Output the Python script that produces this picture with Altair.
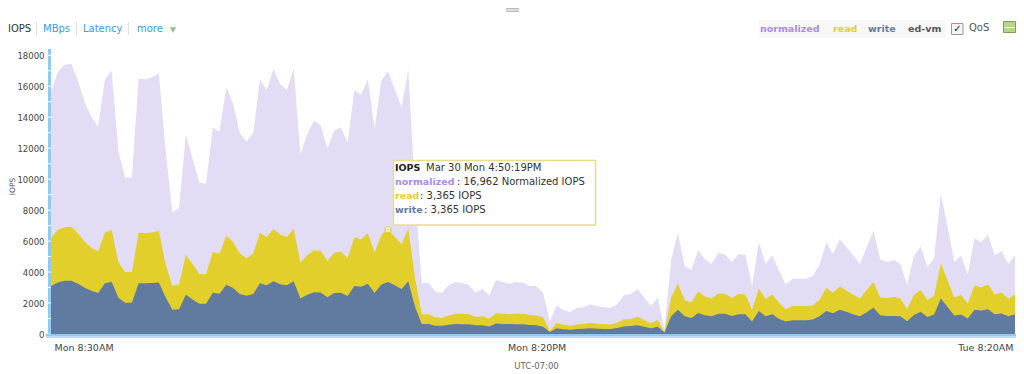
import altair as alt
import pandas as pd

FONT = "DejaVu Sans"
STEP_MINUTES = 10

normalized = [15570,16900,17380,17440,16350,14950,14000,13390,16450,16990,11790,10100,10100,16480,16440,16570,16800,11900,7860,8130,
 12870,11300,9760,9700,13330,13050,15950,14880,12980,12420,12980,16440,15730,17110,16140,15750,17130,11600,12900,13770,
 13470,11970,13130,13350,12330,15730,15440,16450,13240,16350,16962,15780,14620,17050,9100,3270,3310,2730,2670,3170,
 3360,3290,3170,2670,2910,2470,3480,3360,3230,3360,3310,3080,3100,2670,800,1830,1550,1420,1700,1720,
 1920,1790,1720,1700,1920,2520,2580,2910,2360,1810,2340,300,4780,6500,4390,4130,5430,4820,4520,5250,
 5140,4650,5170,5100,3100,5920,4520,5080,4090,3180,3570,3570,3570,3750,4460,5900,5170,6120,5600,5080,
 4520,5600,6670,4820,4650,4780,4520,3170,5060,5640,4330,4890,9040,6930,4650,5060,3880,6200,5920,6400,
 5080,5360,4520,5100]

read_stack_top = [6200,6720,6890,6930,6500,5960,5570,5320,6540,6720,4630,4000,4000,6540,6520,6560,6650,4520,3120,3190,
 5100,4520,3880,3860,5300,5190,6330,5960,5190,4910,5190,6540,6270,6780,6420,6270,6800,4610,5080,5410,
 5360,4720,5230,5330,4900,6250,6100,6500,5280,6400,6730,6280,5800,6800,3600,1270,1270,1080,1030,1200,
 1300,1300,1280,1100,1150,1000,1340,1300,1280,1300,1300,1220,1200,1080,200,710,600,540,620,660,
 710,660,640,620,730,960,960,1110,900,680,920,120,2350,3250,2190,2030,2750,2420,2290,2620,
 2600,2320,2580,2550,1560,2940,2270,2550,2010,1600,1800,1800,1800,1840,2210,2970,2660,3070,2810,2530,
 2290,2840,3360,2380,2320,2400,2290,1620,2510,2840,2190,2470,4570,3440,2360,2510,1970,3140,3010,3200,
 2550,2680,2270,2550]

write = [3100,3330,3440,3440,3250,2990,2790,2640,3270,3380,2340,2010,2010,3270,3270,3290,3330,2380,1560,1600,
 2530,2230,1950,1950,2660,2600,3180,2970,2580,2470,2580,3270,3140,3400,3220,3140,3400,2290,2530,2700,
 2680,2380,2640,2660,2450,3100,3050,3250,2640,3200,3365,3140,2900,3400,1760,645,645,535,535,600,
 645,625,625,560,560,490,670,645,645,625,625,580,560,470,130,365,300,280,325,345,
 365,345,325,325,385,490,510,560,470,365,470,90,1140,1570,1140,1040,1360,1210,1150,1300,
 1300,1170,1280,1280,800,1490,1150,1280,970,800,890,890,890,930,1150,1490,1340,1560,1430,1280,
 1150,1410,1690,1210,1170,1170,1150,820,1230,1430,1100,1260,2290,1750,1190,1260,1000,1560,1520,1600,
 1280,1320,1150,1280]

y_major = [0,2000,4000,6000,8000,10000,12000,14000,16000,18000]
y_minor = [1000*k for k in range(0,19)]
x_tick_minutes = [0,710,1430]
x_tick_labels = ["Mon 8:30AM","Mon 8:20PM","Tue 8:20AM"]

minutes = [i*STEP_MINUTES for i in range(len(write))]
df = pd.DataFrame({"minutes":minutes,"normalized":normalized,"read":read_stack_top,"write":write})

W, H = 964, 285
OX, OY = 51, 49
x_scale = alt.Scale(domain=[0,1430], nice=False, zero=False)
y_scale = alt.Scale(domain=[0,18400], nice=False)

label_expr = "datum.value==0?'%s':datum.value==710?'%s':'%s'" % tuple(x_tick_labels)
x_axis = alt.Axis(values=x_tick_minutes, labelExpr=label_expr, grid=False, domain=False, ticks=False,
                  labelFont=FONT, labelFontSize=9.5, labelColor="#444", labelPadding=8,
                  labelAlign=alt.ExprRef("datum.value==0?'left':datum.value==710?'center':'right'"),
                  labelOffset=alt.ExprRef("datum.value==0?3:datum.value==710?7:-2"),
                  labelOverlap=False, labelBound=False, labelFlush=False,
                  title="UTC-07:00", titleFont=FONT, titleFontSize=8.5, titleFontWeight="normal",
                  titleColor="#666", titleX=485, titleY=27)
y_axis = alt.Axis(values=y_major, format="d", labelOverlap=False, labelBound=False, labelFlush=False,
                  grid=False, domain=False, ticks=False,
                  labelFont=FONT, labelFontSize=8.5, labelColor="#444", labelPadding=7,
                  title="IOPS", titleFont=FONT, titleFontSize=7.5, titleFontWeight="normal", titleColor="#555",
                  titleBaseline="top", titleX=-43, titleY=137)

def area(field, color):
    return alt.Chart(df).mark_area(color=color, opacity=1, interpolate="linear").encode(
        x=alt.X("minutes:Q", scale=x_scale, axis=x_axis),
        y=alt.Y(field + ":Q", scale=y_scale, axis=y_axis),
    )

def rect(x0, y0, x1, y1, **kw):
    return alt.Chart(pd.DataFrame({"a":[0]})).mark_rect(**kw).encode(
        x=alt.value(x0-OX), x2=alt.value(x1-OX), y=alt.value(y0-OY), y2=alt.value(y1-OY))

def label(x, y, s, color="#444", size=10, weight="normal", align="left"):
    return alt.Chart(pd.DataFrame({"a":[0]})).mark_text(text=s, font=FONT, fontSize=size, fontWeight=weight,
        color=color, align=align, baseline="middle").encode(x=alt.value(x-OX), y=alt.value(y-OY))

layers = []
layers.append(area("normalized", "#e3dcf5"))
layers.append(area("read", "#e3cf2b"))
layers.append(area("write", "#617a9f"))

# left strip, bottom strip and white tick notches
layers.append(rect(48, 49, 51, 334, color="#8ecbef"))
notches = alt.Chart(pd.DataFrame({"v":y_minor})).mark_rule(color="white", strokeWidth=1).encode(
    y=alt.Y("v:Q", scale=y_scale, axis=y_axis), x=alt.value(-3), x2=alt.value(0))
layers.append(notches)
layers.append(rect(46, 334, 1016, 336, color="#8ecbef"))
layers.append(rect(46, 336, 1016, 338, color="#b7def6"))

# hovered point
hover = alt.Chart(pd.DataFrame({"m":[500],"v":[6730]}))
layers.append(hover.mark_point(filled=True, fill="white", stroke="#e3cf2b", strokeWidth=1.2, size=36, opacity=1).encode(
    x=alt.X("m:Q", scale=x_scale, axis=x_axis), y=alt.Y("v:Q", scale=y_scale, axis=y_axis)))
layers.append(hover.mark_point(filled=True, color="#e3cf2b", size=5, opacity=1).encode(
    x=alt.X("m:Q", scale=x_scale, axis=x_axis), y=alt.Y("v:Q", scale=y_scale, axis=y_axis)))

# tooltip
layers.append(rect(393.5, 160.5, 595.5, 225, fill="white", fillOpacity=0.92, stroke="#e9dd85", strokeWidth=1.5))
for x, y, s, c, w, sz in [
    (395,168,"IOPS","#222","bold",9.5),
    (426,168,"Mar 30 Mon 4:50:19PM","#333","normal",10),
    (395,182,"normalized","#a98be8","bold",9.5),
    (457,182,": 16,962 Normalized IOPS","#333","normal",10),
    (395,196,"read","#e3cf2b","bold",9.5),
    (420,196,": 3,365 IOPS","#333","normal",10),
    (395,210,"write","#617a9f","bold",9.5),
    (424,210,": 3,365 IOPS","#333","normal",10),
]:
    layers.append(label(x, y, s, c, sz, w))

# drag handle
layers.append(rect(506, 8, 519, 9.5, color="#bbbbbb"))
layers.append(rect(506, 10.5, 519, 12, color="#bbbbbb"))

# toolbar
for x, y, s, c in [(8,28.5,"IOPS","#333"),(43,28.5,"MBps","#3a9be8"),(83,28.5,"Latency","#3a9be8"),(137,28.5,"more","#3a9be8")]:
    layers.append(label(x, y, s, c, 10))
for x in [36, 76, 128]:
    layers.append(rect(x, 22, x+1, 35, color="#e2e2e2"))
layers.append(alt.Chart(pd.DataFrame({"a":[0]})).mark_point(shape="triangle-down", filled=True, color="#aaaaaa", size=40, opacity=1).encode(
    x=alt.value(173-OX), y=alt.value(30-OY)))

# legend strip
layers.append(rect(759, 20, 945, 38, color="#f8f8f8"))
for x, s, c in [(760,"normalized","#a98be8"),(833,"read","#e3cf2b"),(868,"write","#617a9f"),(908,"ed-vm","#555555")]:
    layers.append(label(x, 28.5, s, c, 9.5, "bold"))
layers.append(rect(951.5, 23.5, 963, 34.5, fill="#f4f4f4", stroke="#999999", strokeWidth=1))
layers.append(label(957.5, 29, "\u2713", "#222222", 10, "bold", "center"))
layers.append(label(969, 28, "QoS", "#555555", 10))

# export icon
layers.append(rect(1003.5, 21.5, 1015.5, 32.5, fill="#b8d58e", stroke="#7f9e55", strokeWidth=1))
layers.append(rect(1004, 27, 1015, 28, color="#eef5e2"))

chart = alt.layer(*layers).properties(
    width=W, height=H,
    autosize=alt.AutoSizeParams(type="none"),
    padding={"left":OX-8, "top":OY-8, "right":1, "bottom":374-OY-H},
    background="white",
).configure_view(stroke=None).configure_axis(labelOverlap=False)

chart.save("out.html", embed_options={"renderer": "svg", "actions": False})
